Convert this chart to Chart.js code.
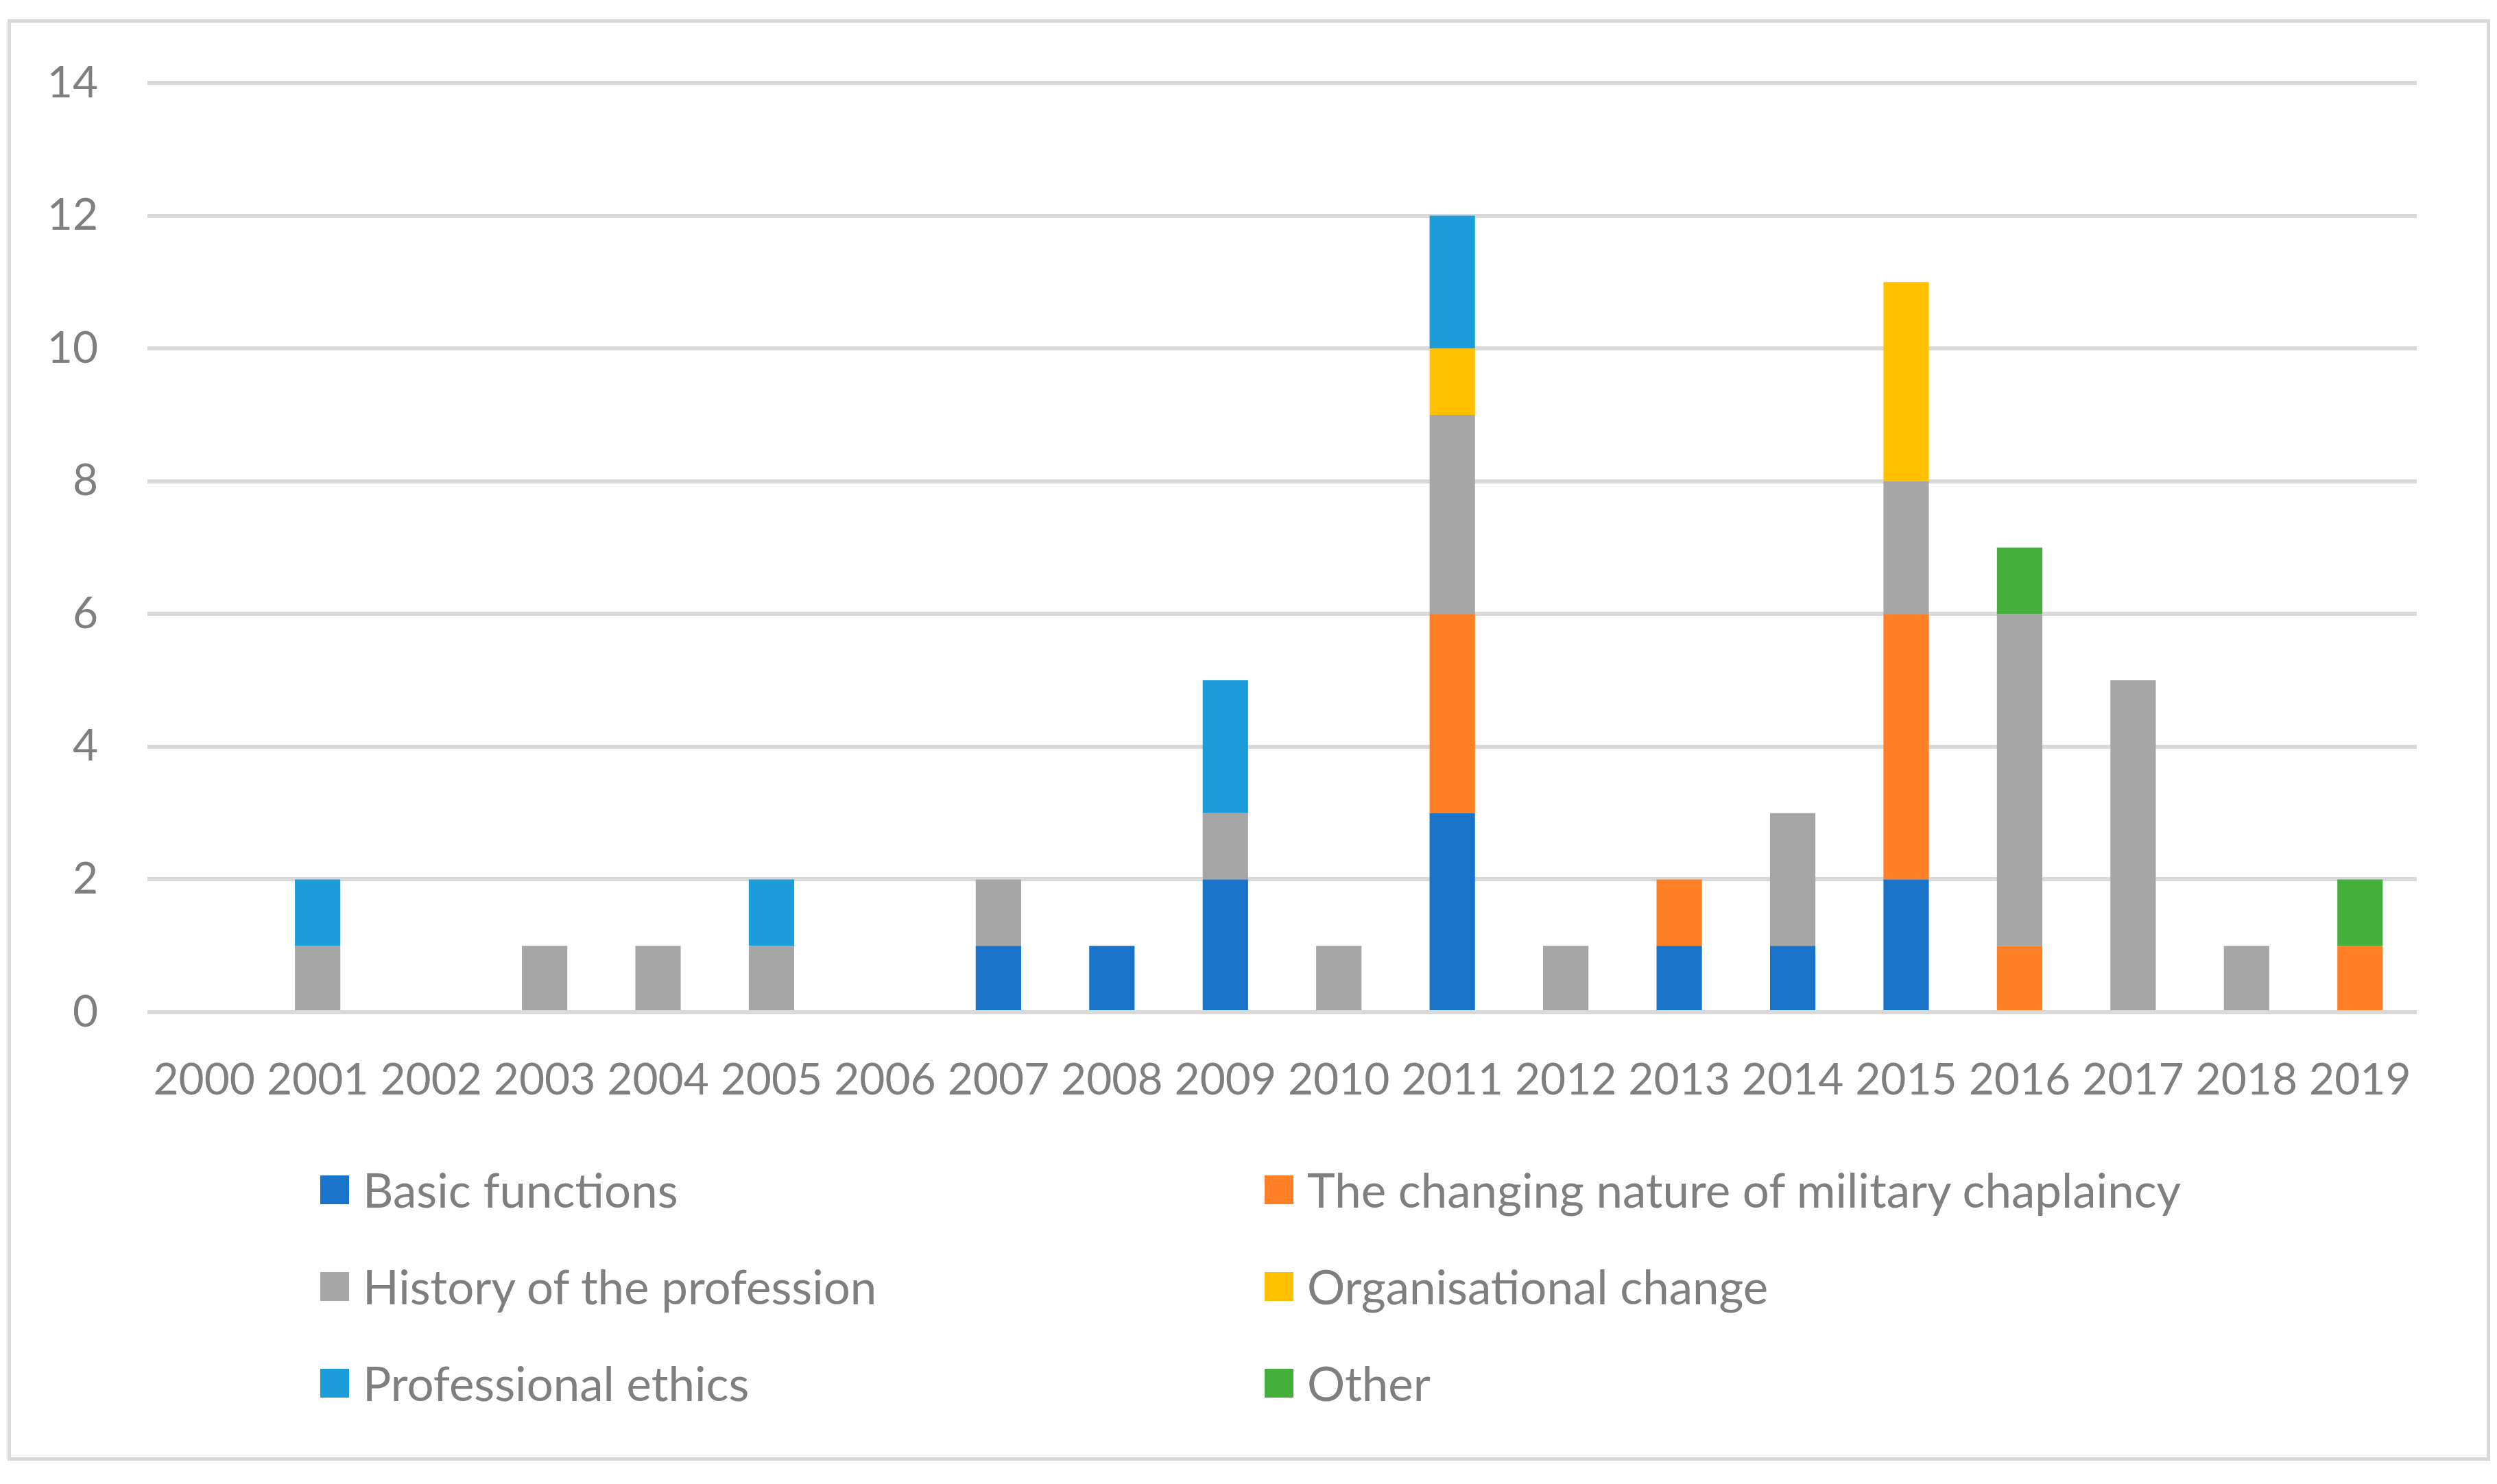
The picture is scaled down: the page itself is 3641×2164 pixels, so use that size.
<!DOCTYPE html>
<html>
<head>
<meta charset="utf-8">
<script src="https://cdn.jsdelivr.net/npm/chart.js@4.4.1/dist/chart.umd.min.js"></script>
<style>
  body { margin: 0; background: #fff; width: 3641px; height: 2164px; position: relative; overflow: hidden; font-family: Lato, sans-serif; }
  #frame { position: absolute; left: 11px; top: 28px; width: 3620px; height: 2102px; border: 5px solid #d9d9d9; box-sizing: border-box; }
  #chartBox { position: absolute; left: 0; top: 0; width: 3641px; height: 1700px; }
  #legend { position: absolute; left: 467px; top: 1664px; display: grid; grid-template-columns: 1377px auto; grid-auto-rows: 141px; }
  .item { display: flex; align-items: center; color: #7f7f7f; font-size: 69px; white-space: nowrap; }
  .swatch { width: 42px; height: 42px; margin-right: 20px; flex: none; }
</style>
</head>
<body>
<div id="frame"></div>
<div id="chartBox"><canvas id="chart"></canvas></div>
<div id="legend"></div>
<script>
// articles per year, by topic
var years = ['2000', '2001', '2002', '2003', '2004', '2005', '2006', '2007', '2008', '2009',
  '2010', '2011', '2012', '2013', '2014', '2015', '2016', '2017', '2018', '2019'];
var basicFunctions = [0, 0, 0, 0, 0, 0, 0, 1, 1, 2, 0, 3, 0, 1, 1, 2, 0, 0, 0, 0];
var changingNature = [0, 0, 0, 0, 0, 0, 0, 0, 0, 0, 0, 3, 0, 1, 0, 4, 1, 0, 0, 1];
var historyProfession = [0, 1, 0, 1, 1, 1, 0, 1, 0, 1, 1, 3, 1, 0, 2, 2, 5, 5, 1, 0];
var organisationalChange = [0, 0, 0, 0, 0, 0, 0, 0, 0, 0, 0, 1, 0, 0, 0, 3, 0, 0, 0, 0];
var professionalEthics = [0, 1, 0, 0, 0, 1, 0, 0, 0, 2, 0, 2, 0, 0, 0, 0, 0, 0, 0, 0];
var otherTopics = [0, 0, 0, 0, 0, 0, 0, 0, 0, 0, 0, 0, 0, 0, 0, 0, 1, 0, 0, 1];
var yTicks = [0, 2, 4, 6, 8, 10, 12, 14];

var seriesNames = ['Basic functions', 'The changing nature of military chaplaincy', 'History of the profession',
  'Organisational change', 'Professional ethics', 'Other'];
var seriesValues = [basicFunctions, changingNature, historyProfession, organisationalChange, professionalEthics, otherTopics];
var seriesColors = ['#1873c9', '#ff7f27', '#a6a6a6', '#ffc000', '#1c9cd8', '#44af3b'];

var datasets = [];
for (let i = 0; i < seriesNames.length; i++) {
  datasets.push({
    label: seriesNames[i],
    data: seriesValues[i],
    backgroundColor: seriesColors[i],
    borderWidth: 0,
    categoryPercentage: 1,
    barPercentage: 0.4
  });
}

var tickFont = { family: 'Lato', size: 64 };

new Chart(document.getElementById('chart'), {
  type: 'bar',
  data: { labels: years, datasets: datasets },
  options: {
    responsive: true,
    maintainAspectRatio: false,
    devicePixelRatio: 1,
    animation: false,
    layout: { padding: { left: 20, right: 117, top: 121, bottom: 0 } },
    plugins: { legend: { display: false }, tooltip: { enabled: false } },
    scales: {
      x: {
        stacked: true,
        grid: { display: false },
        border: { display: false },
        ticks: { color: '#7f7f7f', font: tickFont, padding: 53, maxRotation: 0, autoSkip: false },
        afterFit: function (scale) { scale.height = 224; }
      },
      y: {
        stacked: true,
        min: 0,
        max: 14,
        afterBuildTicks: function (scale) {
          scale.ticks = yTicks.map(function (v) { return { value: v }; });
        },
        grid: { color: '#d9d9d9', lineWidth: 6, drawTicks: false },
        border: { display: false },
        ticks: { color: '#7f7f7f', font: tickFont, padding: 72 },
        afterFit: function (scale) { scale.width = 195; }
      }
    }
  }
});

var legendBox = document.getElementById('legend');
var legendHtml = '';
for (let i = 0; i < seriesNames.length; i++) {
  legendHtml += '<div class="item"><span class="swatch" style="background:' + seriesColors[i] + '"></span>' + seriesNames[i] + '</div>';
}
legendBox.innerHTML = legendHtml;
</script>
</body>
</html>
